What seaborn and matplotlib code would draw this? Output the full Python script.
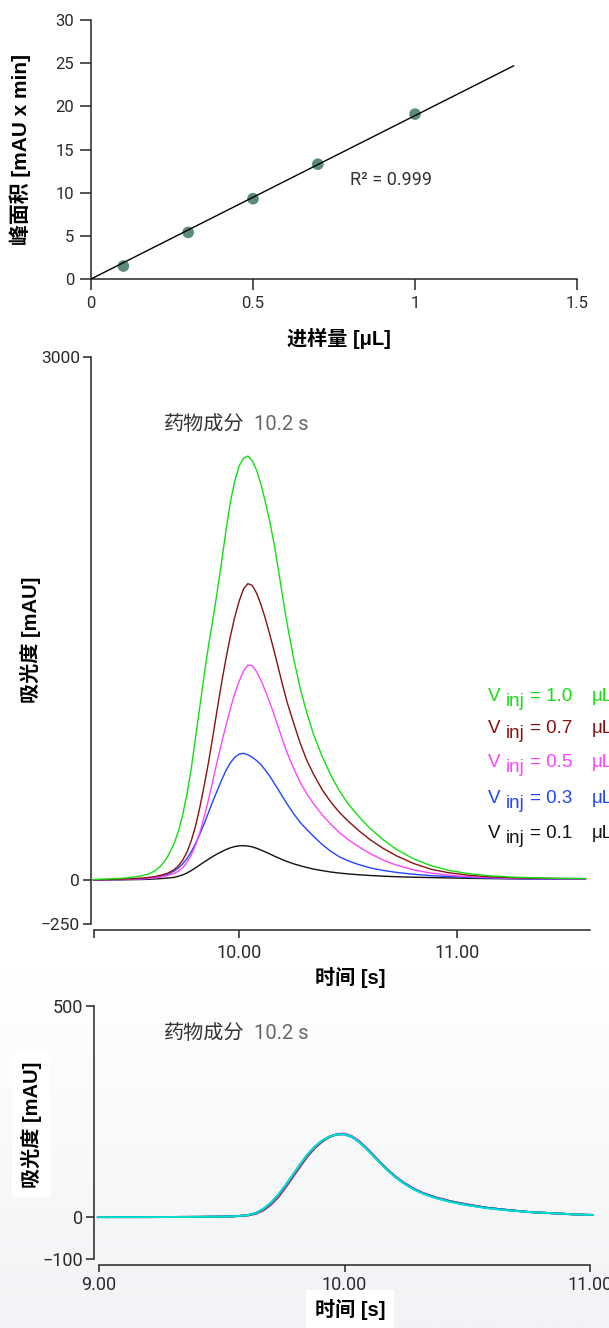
import numpy as np
import pandas as pd
import matplotlib
matplotlib.use("Agg")
import matplotlib.pyplot as plt
import seaborn as sns
from matplotlib import font_manager
from matplotlib.colors import LinearSegmentedColormap

# --- calibration (top panel) -------------------------------------------------
CAL_VOLUME = [0.1, 0.3, 0.5, 0.7, 1.0]          # uL
CAL_AREA = [1.5, 5.4, 9.3, 13.3, 19.1]           # mAU x min
R2_TEXT = "R\u00b2 = 0.999"

# --- chromatograms, 5 injection volumes (middle panel) -----------------------
TIME_MID = [9.33, 9.40, 9.45, 9.50, 9.55, 9.58, 9.61, 9.64, 9.67, 9.70,
            9.72, 9.74, 9.76, 9.78, 9.80, 9.82, 9.84, 9.86, 9.88, 9.90,
            9.92, 9.94, 9.96, 9.98, 10.00, 10.02, 10.04, 10.06, 10.08, 10.10,
            10.12, 10.14, 10.16, 10.18, 10.20, 10.22, 10.25, 10.28, 10.31, 10.34,
            10.38, 10.42, 10.46, 10.50, 10.55, 10.60, 10.66, 10.72, 10.80, 10.88,
            10.96, 11.05, 11.15, 11.25, 11.35, 11.45, 11.59]
ABS_10 = [3, 6, 9, 14, 24, 33, 50, 80, 130, 205,
          275, 370, 490, 640, 820, 1000, 1180, 1350, 1500, 1660,
          1830, 2010, 2170, 2290, 2375, 2420, 2432, 2405, 2350, 2270,
          2170, 2060, 1930, 1780, 1620, 1470, 1270, 1100, 960, 840,
          712, 602, 512, 437, 362, 297, 232, 177, 122, 82,
          56, 37, 24, 17, 13, 10, 8]
ABS_07 = [1, 3, 5, 7, 11, 14, 19, 27, 38, 58,
          80, 112, 158, 225, 310, 420, 545, 680, 830, 985,
          1135, 1275, 1400, 1510, 1600, 1670, 1700, 1690, 1645, 1580,
          1500, 1410, 1315, 1215, 1115, 1020, 900, 785, 688, 610,
          520, 448, 388, 338, 282, 232, 182, 140, 95, 62,
          42, 28, 18, 13, 10, 9, 8]
ABS_05 = [1, 2, 3, 5, 7, 9, 12, 17, 25, 37,
          50, 70, 100, 143, 200, 275, 365, 465, 575, 685,
          790, 890, 985, 1070, 1140, 1200, 1233, 1228, 1195, 1145,
          1085, 1020, 950, 875, 800, 730, 640, 560, 495, 440,
          375, 320, 272, 232, 190, 152, 115, 86, 58, 40,
          28, 19, 14, 10, 8, 7, 6]
ABS_03 = [1, 2, 3, 4, 6, 9, 13, 20, 32, 50,
          68, 92, 122, 162, 210, 265, 325, 390, 455, 515,
          575, 630, 673, 704, 722, 727, 718, 704, 685, 662,
          630, 597, 557, 517, 476, 436, 380, 330, 290, 252,
          205, 165, 133, 110, 88, 70, 55, 44, 33, 25,
          20, 15, 11, 8, 6, 5, 4]
ABS_01 = [0, 1, 1, 2, 3, 4, 6, 8, 11, 15,
          21, 29, 40, 54, 70, 87, 104, 120, 136, 150,
          163, 175, 185, 192, 196, 197, 195, 190, 182, 172,
          161, 150, 138, 127, 116, 106, 93, 82, 72, 63,
          54, 46, 40, 35, 30, 26, 22, 19, 16, 14,
          12, 10, 8, 7, 6, 5, 5]
VOLUMES = ["1.0", "0.7", "0.5", "0.3", "0.1"]
VOL_COLORS = ["#10e010", "#8b1010", "#ff44ff", "#2244ff", "#111111"]

# --- normalised overlay (bottom panel) ---------------------------------------
TIME_BOT = [8.995, 9.20, 9.40, 9.50, 9.55, 9.58, 9.61, 9.64, 9.67, 9.70,
            9.73, 9.76, 9.79, 9.82, 9.85, 9.88, 9.91, 9.94, 9.97, 10.00,
            10.03, 10.06, 10.09, 10.12, 10.15, 10.18, 10.21, 10.24, 10.28, 10.32,
            10.37, 10.43, 10.50, 10.58, 10.66, 10.75, 10.85, 10.95, 11.01]
BOT_BROWN = [0, 0, 0.5, 1, 2, 3, 4, 8, 16, 29,
             47, 70, 95, 120, 144, 164, 179, 190, 196, 197,
             191, 179, 163, 145, 127, 110, 95, 82, 68, 57,
             47, 38, 30, 22, 17, 12, 9, 6, 5]
BOT_MAGENTA = [0, 0, 0.5, 1, 2, 3, 5, 9, 18, 31,
               50, 73, 98, 123, 147, 166, 181, 191, 197, 198,
               192, 180, 164, 146, 127, 110, 95, 82, 68, 57,
               46, 37, 29, 22, 17, 12, 9, 6, 5]
BOT_GREEN = [0, 0, 0.5, 1, 2, 3, 5, 10, 19, 33,
             52, 75, 100, 125, 148, 167, 181, 191, 196, 196,
             190, 178, 162, 144, 126, 109, 94, 81, 67, 56,
             46, 37, 29, 22, 17, 12, 9, 6, 5]
BOT_BLUE = [0, 0, 0.5, 1, 2, 3, 5, 10, 19, 33,
            52, 75, 100, 125, 148, 167, 181, 191, 196, 196,
            190, 178, 162, 144, 126, 109, 94, 81, 67, 56,
            46, 37, 29, 22, 17, 12, 9, 6, 5]
BOT_CYAN = [0, 0, 0.5, 1, 2, 3, 5, 10, 20, 34,
            53, 76, 101, 126, 149, 168, 182, 191, 196, 196,
            190, 177, 161, 143, 125, 108, 93, 80, 66, 55,
            45, 36, 28, 21, 16, 12, 9, 6, 5]
BOT_COLORS = ["#8b1010", "#ff44ff", "#10e010", "#2244ff", "#00e0cc"]

PEAK_NAME = "药物成分"
PEAK_TIME = "10.2 s"

# --- style -------------------------------------------------------------------
sns.set_theme(style="ticks")
plt.rcParams["font.family"] = ["Liberation Sans", "Noto Sans CJK SC", "DejaVu Sans"]
plt.rcParams["axes.linewidth"] = 1.1
installed = {f.name for f in font_manager.fontManager.ttflist}
NARROW = "Liberation Sans Narrow" if "Liberation Sans Narrow" in installed else "Roboto"
LABEL_FONT = dict(fontsize=14.5, fontweight="bold", color="black")
TICK_GREY = "#2a2a2a"

W, H = 609, 1328
fig = plt.figure(figsize=(W / 100, H / 100), dpi=100)
fig.patch.set_facecolor("white")

# faint grey wash behind the lower panel
bg = fig.add_axes([0, 0, 1, 0.27], zorder=-5)
bg.imshow(np.linspace(0, 1, 256).reshape(-1, 1), aspect="auto", origin="lower",
          extent=[0, 1, 0, 1],
          cmap=LinearSegmentedColormap.from_list("wash", ["#f2f3f6", "#ffffff"]))
bg.axis("off")

ax1 = fig.add_axes([91 / W, 1 - 279 / H, 486 / W, 259 / H])
ax2 = fig.add_axes([91 / W, 1 - 923.6 / H, 499 / W, 566.6 / H])
ax3 = fig.add_axes([94 / W, 1 - 1259.3 / H, 501 / W, 253.3 / H])
ax3.patch.set_alpha(0)

# --- top: calibration --------------------------------------------------------
x = np.array(CAL_VOLUME)
y = np.array(CAL_AREA)
slope = np.sum(x * y) / np.sum(x * x)   # fit through the origin
fit_x = np.array([0.0, 1.305])
sns.scatterplot(x=x, y=y, ax=ax1, s=70, color="#5b8c7b", edgecolor="none", zorder=2)
sns.lineplot(x=fit_x, y=slope * fit_x, ax=ax1, color="black", lw=1.0, zorder=3)
ax1.set_xlim(0, 1.5)
ax1.set_ylim(0, 30)
ax1.set_xticks([0, 0.5, 1, 1.5], ["0", "0.5", "1", "1.5"])
ax1.set_yticks(range(0, 31, 5))
ax1.tick_params(axis="both", length=8, width=1.1, pad=4, labelsize=12,
                labelcolor=TICK_GREY, labelfontfamily=NARROW)
ax1.text(0.80, 11.5, R2_TEXT, fontsize=13, color="#333333", family=NARROW,
         va="center", ha="left")
ax1.set_xlabel("进样量 [μL]", **LABEL_FONT)
ax1.set_ylabel("峰面积 [mAU x min]", va="center", fontsize=15, fontweight="bold",
               color="black")
ax1.xaxis.set_label_coords(0.51, -0.19)
ax1.yaxis.set_label_coords(-0.146, 0.5)
sns.despine(ax=ax1)

# --- middle: chromatograms ---------------------------------------------------
mid = pd.concat([
    pd.DataFrame({"t": TIME_MID, "abs": vals, "vol": v})
    for v, vals in zip(VOLUMES, [ABS_10, ABS_07, ABS_05, ABS_03, ABS_01])
])
sns.lineplot(data=mid, x="t", y="abs", hue="vol", hue_order=VOLUMES[::-1],
             palette=dict(zip(VOLUMES, VOL_COLORS)), estimator=None, sort=False,
             lw=1.0, legend=False, ax=ax2)
ax2.set_xlim(9.32, 11.61)
ax2.set_ylim(-250, 3000)
ax2.set_yticks([-250, 0, 3000])
ax2.set_xticks([9.334, 10, 11], ["", "10.00", "11.00"])
ax2.spines["bottom"].set_position(("outward", 4.6))
ax2.spines["bottom"].set_bounds(9.334, 11.61)
ax2.tick_params(axis="x", length=6, width=1.1, pad=4, labelsize=13,
                labelcolor=TICK_GREY, labelfontfamily=NARROW)
ax2.tick_params(axis="y", length=6, width=1.1, pad=2, labelsize=12.5,
                labelcolor=TICK_GREY, labelfontfamily=NARROW)
ax2.text(9.656, 2610, PEAK_NAME, fontsize=14.5, color="#333333",
         family="Noto Sans CJK SC", va="center", ha="left")
ax2.text(10.069, 2610, PEAK_TIME, fontsize=14.5, color="#666666", family=NARROW,
         va="center", ha="left")
ax2.set_xlabel("时间 [s]", **LABEL_FONT)
ax2.set_ylabel("吸光度 [mAU]", va="center", **LABEL_FONT)
ax2.xaxis.set_label_coords(0.52, -0.077)
ax2.yaxis.set_label_coords(-0.122, 0.5)
sns.despine(ax=ax2)

# legend written as coloured text, "inj" dropped below the line
LEGEND_BASE = [700.7, 733.3, 766.7, 803.3, 838.3]
for v, c, yb_px in zip(VOLUMES, VOL_COLORS, LEGEND_BASE):
    yb = 1 - yb_px / H
    yi = 1 - (yb_px + 5) / H
    fig.text(488 / W, yb, "V", color=c, fontsize=13.5, va="baseline")
    fig.text(506 / W, yi, "inj", color=c, fontsize=13.5, va="baseline")
    fig.text(530 / W, yb, f"= {v}", color=c, fontsize=13.5, va="baseline")
    fig.text(592 / W, yb, "μL", color=c, fontsize=13.5, va="baseline")

# --- bottom: normalised overlay ---------------------------------------------
bot = pd.concat([
    pd.DataFrame({"t": TIME_BOT, "abs": vals, "run": str(k)})
    for k, vals in enumerate([BOT_BROWN, BOT_MAGENTA, BOT_GREEN, BOT_BLUE, BOT_CYAN])
])
sns.lineplot(data=bot, x="t", y="abs", hue="run", hue_order=[str(k) for k in range(5)],
             palette=BOT_COLORS, estimator=None, sort=False, lw=1.4, legend=False, ax=ax3)
ax3.set_xlim(8.98, 11.02)
ax3.set_ylim(-100, 500)
ax3.set_yticks([-100, 0, 500])
ax3.set_xticks([9, 10, 11], ["9.00", "10.00", "11.00"])
ax3.spines["bottom"].set_position(("outward", 4.1))
ax3.spines["bottom"].set_bounds(9, 11)
ax3.tick_params(axis="x", length=5, width=1.1, pad=3, labelsize=13,
                labelcolor=TICK_GREY, labelfontfamily=NARROW)
ax3.tick_params(axis="y", length=6, width=1.1, pad=2, labelsize=13,
                labelcolor=TICK_GREY, labelfontfamily=NARROW)
ax3.text(9.265, 436, PEAK_NAME, fontsize=14.5, color="#333333",
         family="Noto Sans CJK SC", va="center", ha="left")
ax3.text(9.633, 436, PEAK_TIME, fontsize=14.5, color="#666666", family=NARROW,
         va="center", ha="left")
white_box = dict(facecolor="white", edgecolor="none", boxstyle="square,pad=0.45")
ax3.set_xlabel("时间 [s]", bbox=white_box, **LABEL_FONT)
ax3.set_ylabel("吸光度 [mAU]", va="center", bbox=white_box, **LABEL_FONT)
ax3.xaxis.set_label_coords(0.511, -0.157)
ax3.yaxis.set_label_coords(-0.124, 0.53)
sns.despine(ax=ax3)

fig.savefig("out.png", dpi=100, facecolor="white")
